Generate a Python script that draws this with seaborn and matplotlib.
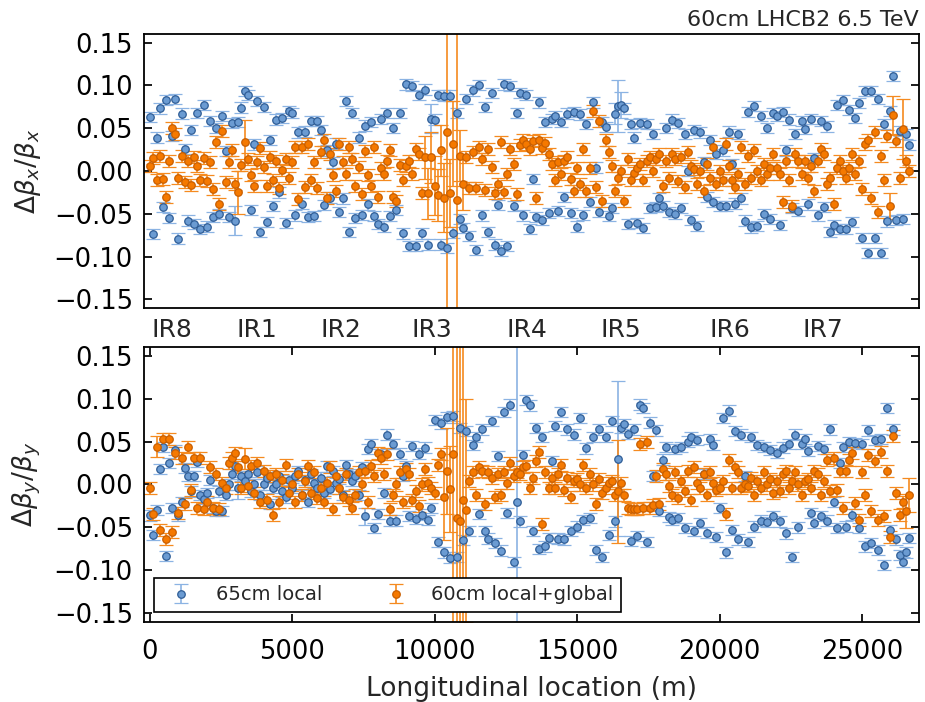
import numpy as np
import matplotlib
matplotlib.use("Agg")
import matplotlib.pyplot as plt
import seaborn as sns

# BPM longitudinal positions (m)
s_pos = [
    20, 130, 240, 350, 460, 570, 680, 790, 900,
    1010, 1120, 1230, 1340, 1450, 1560, 1670, 1780, 1890,
    2000, 2110, 2220, 2330, 2440, 2550, 2660, 2770, 2880,
    3000, 3110, 3220, 3330, 3440, 3550, 3660, 3770, 3880,
    4000, 4110, 4220, 4330, 4440, 4550, 4660, 4770, 4880,
    5000, 5110, 5220, 5330, 5440, 5550, 5660, 5770, 5880,
    6000, 6110, 6220, 6330, 6440, 6550, 6660, 6770, 6880,
    7000, 7110, 7220, 7330, 7440, 7550, 7660, 7770, 7880,
    8000, 8110, 8220, 8330, 8440, 8550, 8660, 8770, 8880,
    9000, 9110, 9220, 9330, 9440, 9550, 9660, 9770, 9880,
    10000, 10110, 10220, 10330, 10440, 10550, 10660, 10770, 10880,
    11000, 11110, 11220, 11330, 11440, 11550, 11660, 11770, 11880,
    12000, 12110, 12220, 12330, 12440, 12550, 12660, 12770, 12880,
    13000, 13110, 13220, 13330, 13440, 13550, 13660, 13770, 13880,
    14000, 14110, 14220, 14330, 14440, 14550, 14660, 14770, 14880,
    15000, 15110, 15220, 15330, 15440, 15550, 15660, 15770, 15880,
    16000, 16110, 16220, 16330, 16440, 16550, 16660, 16770, 16880,
    17000, 17110, 17220, 17330, 17440, 17550, 17660, 17770, 17880,
    18000, 18110, 18220, 18330, 18440, 18550, 18660, 18770, 18880,
    19000, 19110, 19220, 19330, 19440, 19550, 19660, 19770, 19880,
    20000, 20110, 20220, 20330, 20440, 20550, 20660, 20770, 20880,
    21000, 21110, 21220, 21330, 21440, 21550, 21660, 21770, 21880,
    22000, 22110, 22220, 22330, 22440, 22550, 22660, 22770, 22880,
    23000, 23110, 23220, 23330, 23440, 23550, 23660, 23770, 23880,
    24000, 24110, 24220, 24330, 24440, 24550, 24660, 24770, 24880,
    25000, 25110, 25220, 25330, 25440, 25550, 25660, 25770, 25880,
    25990, 26100, 26210, 26320, 26430, 26540, 26650,
]

# horizontal beta-beating
dbx_65 = [
    0.063, -0.074, 0.039, 0.073, -0.042, 0.083, -0.055, 0.041, 0.084,
    -0.079, 0.067, 0.026, -0.058, 0.048, -0.062, 0.068, -0.068, 0.077,
    -0.065, 0.058, -0.054, 0.050, -0.050, 0.064, 0.023, -0.054, 0.056,
    -0.058, 0.057, 0.074, 0.093, 0.089, -0.046, 0.031, 0.082, -0.071,
    0.075, -0.060, 0.036, -0.041, 0.060, -0.025, 0.062, -0.061, 0.070,
    0.068, -0.052, 0.045, -0.038, 0.046, -0.054, 0.058, -0.053, 0.058,
    0.048, -0.040, 0.024, -0.031, 0.010, 0.032, -0.048, -0.032, 0.082,
    -0.071, 0.068, -0.055, 0.039, -0.051, 0.053, -0.039, 0.057, -0.053,
    -0.062, 0.061, -0.065, 0.068, -0.053, 0.050, -0.046, 0.068, -0.073,
    0.101, -0.088, 0.099, -0.088, 0.089, -0.073, 0.095, -0.086, 0.061,
    0.060, 0.089, -0.086, 0.088, -0.090, 0.088, -0.072, 0.068, -0.056,
    -0.067, 0.084, -0.076, 0.094, -0.092, 0.100, -0.052, 0.075, -0.071,
    0.091, -0.086, -0.040, -0.093, 0.101, -0.088, 0.099, -0.041, 0.068,
    0.091, -0.052, 0.089, -0.068, -0.009, -0.054, 0.080, -0.057, 0.057,
    -0.049, 0.061, 0.064, -0.047, 0.057, -0.030, 0.067, -0.049, 0.069,
    -0.065, 0.066, -0.051, 0.055, -0.036, 0.080, 0.004, -0.048, 0.057,
    0.051, -0.053, -0.043, 0.067, 0.076, 0.077, 0.073, -0.062, 0.055,
    0.039, -0.061, 0.056, -0.067, 0.055, -0.043, 0.043, -0.042, -0.032,
    -0.041, 0.050, -0.048, 0.060, -0.050, 0.056, -0.043, 0.043, 0.000,
    -0.057, 0.048, -0.064, 0.045, 0.010, -0.030, 0.036, -0.036, 0.020,
    -0.041, 0.024, -0.041, 0.046, 0.008, -0.038, 0.043, -0.032, -0.058,
    0.069, -0.066, 0.076, -0.064, 0.064, -0.050, 0.050, -0.056, 0.068,
    0.064, -0.063, 0.069, 0.024, 0.060, -0.043, 0.043, -0.047, 0.058,
    0.049, -0.039, 0.061, 0.015, -0.052, 0.058, -0.042, 0.052, -0.071,
    -0.063, 0.077, -0.068, 0.083, -0.068, 0.071, -0.060, 0.062, 0.079,
    -0.078, 0.093, -0.096, 0.093, -0.078, 0.084, -0.096, 0.055, -0.059,
    0.070, 0.111, -0.057, 0.047, -0.056, 0.043, 0.030,
]

dbx_60 = [
    0.006, 0.015, -0.011, 0.018, -0.009, -0.030, 0.012, 0.050, 0.043,
    -0.008, 0.018, -0.013, 0.012, -0.016, 0.016, 0.006, -0.011, 0.015,
    -0.012, 0.010, -0.021, 0.034, -0.039, 0.047, -0.013, 0.010, 0.024,
    -0.015, -0.025, 0.007, 0.034, 0.014, -0.005, -0.017, 0.010, 0.027,
    0.005, -0.017, 0.016, -0.010, 0.012, -0.020, 0.001, 0.014, -0.008,
    0.010, 0.028, -0.033, 0.028, -0.019, 0.032, -0.010, 0.010, -0.020,
    0.022, 0.036, -0.032, 0.020, -0.005, -0.023, 0.032, 0.010, -0.004,
    0.028, 0.014, -0.017, 0.005, -0.027, 0.023, -0.005, -0.017, 0.028,
    -0.030, 0.004, -0.004, 0.012, 0.024, -0.030, -0.035, 0.007, -0.011,
    0.006, 0.012, -0.004, 0.026, 0.020, -0.026, 0.016, -0.026, 0.016,
    -0.017, -0.028, 0.024, -0.031, 0.046, -0.026, 0.032, -0.034, 0.018,
    -0.015, 0.016, -0.020, 0.022, -0.020, 0.028, 0.014, -0.022, 0.026,
    0.005, -0.026, -0.015, 0.034, -0.025, -0.004, 0.026, 0.008, -0.027,
    0.030, 0.036, 0.032, 0.026, 0.035, -0.031, 0.036, 0.027, 0.033,
    0.020, 0.008, -0.011, 0.010, -0.004, 0.012, 0.016, -0.009, -0.023,
    0.004, -0.015, 0.026, -0.023, 0.004, 0.070, -0.019, 0.058, -0.035,
    0.036, 0.022, 0.006, -0.023, -0.008, 0.000, -0.035, 0.014, -0.011,
    -0.002, 0.004, 0.008, -0.010, 0.012, 0.016, 0.000, 0.014, 0.020,
    -0.017, 0.012, -0.008, 0.020, 0.014, -0.012, 0.016, -0.019, 0.022,
    0.006, 0.002, -0.015, 0.000, -0.023, 0.008, -0.008, 0.028, -0.015,
    0.000, -0.011, 0.031, 0.006, -0.011, -0.019, -0.004, 0.028, -0.015,
    0.018, -0.008, 0.024, 0.000, -0.011, 0.008, -0.004, 0.004, 0.020,
    0.004, -0.004, -0.036, 0.012, -0.011, -0.041, 0.020, 0.012, -0.004,
    0.012, -0.008, 0.006, -0.023, 0.012, 0.026, 0.020, -0.015, -0.008,
    -0.039, 0.004, 0.012, 0.000, -0.008, 0.004, 0.020, -0.004, 0.012,
    -0.021, 0.032, 0.036, -0.031, 0.046, -0.048, 0.018, -0.011, 0.041,
    -0.041, 0.065, 0.035, -0.008, 0.049, 0.012, 0.000,
]

# vertical beta-beating
dby_65 = [
    -0.036, -0.059, -0.030, 0.018, 0.044, -0.083, 0.025, -0.027, 0.040,
    -0.036, -0.020, 0.019, 0.010, -0.008, 0.010, 0.026, -0.012, -0.017,
    -0.010, 0.005, -0.027, -0.031, -0.008, -0.031, -0.012, 0.000, 0.012,
    0.021, -0.004, 0.010, 0.004, 0.012, -0.008, 0.000, 0.015, -0.012,
    0.000, 0.008, -0.023, -0.004, 0.000, 0.010, -0.008, -0.015, 0.005,
    -0.004, 0.010, 0.016, -0.012, 0.005, -0.020, 0.012, 0.002, -0.004,
    0.008, -0.010, 0.021, -0.005, 0.016, 0.002, 0.006, -0.012, 0.023,
    0.012, 0.004, 0.010, -0.012, 0.020, -0.037, 0.041, 0.047, -0.051,
    -0.034, 0.035, -0.010, 0.058, -0.042, 0.047, -0.042, 0.036, 0.010,
    0.021, -0.037, 0.045, -0.040, 0.036, -0.035, 0.043, -0.041, -0.027,
    0.075, -0.067, 0.071, -0.079, 0.078, -0.085, 0.080, -0.084, 0.066,
    -0.065, 0.062, -0.054, 0.046, 0.055, -0.034, 0.064, -0.054, -0.063,
    0.074, -0.068, 0.033, -0.077, 0.084, -0.033, 0.093, -0.090, -0.020,
    -0.043, 0.034, 0.098, 0.092, -0.054, 0.066, -0.075, 0.055, -0.072,
    -0.062, 0.027, 0.068, -0.063, 0.084, -0.064, 0.064, -0.054, 0.058,
    -0.049, 0.077, -0.041, 0.042, -0.039, 0.055, -0.076, 0.064, -0.084,
    0.055, -0.059, 0.074, -0.043, 0.030, 0.066, 0.070, 0.059, -0.066,
    0.064, -0.060, 0.093, 0.089, -0.067, 0.072, 0.010, 0.063, -0.031,
    0.029, 0.044, -0.038, -0.041, 0.041, -0.039, 0.044, -0.051, 0.050,
    0.055, -0.054, 0.052, -0.045, 0.012, -0.056, 0.053, 0.046, -0.061,
    -0.027, 0.077, -0.079, 0.086, -0.053, 0.062, -0.064, 0.058, 0.010,
    -0.067, 0.055, -0.049, 0.046, -0.042, 0.044, -0.044, 0.040, -0.037,
    0.037, -0.043, 0.043, -0.057, 0.047, -0.084, 0.058, -0.050, 0.047,
    0.053, 0.039, -0.033, -0.045, 0.045, -0.037, 0.041, -0.042, 0.064,
    -0.020, -0.051, 0.025, 0.044, -0.049, 0.049, -0.035, 0.048, -0.051,
    0.047, -0.072, 0.063, -0.068, 0.052, -0.076, 0.053, -0.094, 0.089,
    -0.053, 0.064, -0.064, -0.082, -0.090, -0.079, -0.062,
]

dby_60 = [
    -0.004, -0.034, 0.044, -0.053, 0.053, -0.063, 0.053, -0.055, 0.037,
    -0.033, 0.031, -0.023, 0.044, -0.006, 0.031, -0.027, 0.031, -0.029,
    -0.020, 0.020, -0.027, 0.012, -0.029, 0.002, -0.004, 0.025, 0.031,
    0.037, 0.020, -0.004, 0.030, -0.002, 0.021, -0.010, 0.025, -0.020,
    0.016, -0.018, 0.010, -0.035, 0.012, -0.020, 0.005, 0.023, -0.010,
    0.000, -0.020, 0.012, -0.012, 0.004, 0.021, -0.010, 0.015, -0.016,
    -0.004, -0.020, 0.002, 0.020, -0.029, 0.010, -0.004, -0.015, 0.012,
    -0.018, -0.027, -0.012, 0.014, 0.000, 0.016, -0.020, 0.021, 0.010,
    0.037, 0.031, 0.012, 0.035, -0.029, -0.012, 0.000, 0.015, -0.020,
    0.018, 0.012, -0.018, -0.008, -0.025, 0.000, 0.018, 0.002, -0.004,
    -0.010, 0.023, 0.035, -0.015, 0.016, -0.005, 0.035, -0.039, -0.042,
    -0.018, -0.030, 0.004, 0.014, -0.012, 0.020, 0.016, -0.023, 0.014,
    0.008, -0.014, 0.012, -0.012, 0.014, 0.002, 0.025, 0.010, 0.014,
    0.012, 0.020, 0.022, -0.004, 0.008, 0.027, 0.038, -0.046, 0.014,
    -0.004, 0.008, -0.004, 0.012, 0.023, -0.006, 0.008, -0.014, 0.004,
    0.006, 0.000, 0.023, -0.004, 0.012, 0.000, -0.023, 0.006, -0.010,
    -0.004, 0.002, 0.004, -0.012, -0.008, 0.002, -0.012, -0.027, -0.029,
    -0.029, -0.029, 0.047, -0.027, 0.050, -0.027, -0.024, 0.010, -0.023,
    0.018, 0.012, -0.002, -0.012, 0.014, -0.016, 0.004, -0.008, 0.016,
    -0.018, 0.020, 0.002, -0.004, 0.012, -0.012, 0.014, 0.002, -0.006,
    -0.004, 0.004, -0.034, 0.029, -0.004, 0.020, 0.014, -0.004, 0.000,
    -0.002, 0.008, -0.012, 0.004, -0.004, 0.014, 0.000, 0.006, -0.010,
    0.004, -0.008, 0.012, 0.016, -0.004, 0.004, 0.014, 0.000, -0.012,
    0.004, 0.006, -0.004, 0.016, 0.012, -0.012, 0.004, 0.029, -0.008,
    0.031, -0.006, 0.016, -0.027, 0.016, 0.029, 0.037, -0.021, -0.041,
    0.014, -0.012, 0.034, -0.031, 0.027, -0.041, 0.038, -0.037, 0.016,
    -0.061, 0.056, -0.010, -0.035, -0.020, -0.031, -0.012,
]

# error bars: typical size plus the BPMs with larger errors
err_base_65 = 0.006
err_base_60 = 0.007
err_bx_65 = {3000: 0.017, 9880: 0.017, 16330: 0.012, 16440: 0.03, 16550: 0.015}
err_bx_60 = {3110: 0.025, 3330: 0.025, 9660: 0.025, 9770: 0.03, 9880: 0.03,
             10000: 0.035, 10110: 0.03, 10220: 0.03, 10330: 0.04, 10440: 0.4,
             10550: 0.04, 10660: 0.05, 10770: 0.4, 10880: 0.03, 11000: 0.03,
             25990: 0.015, 26100: 0.022, 26430: 0.035}
err_by_65 = {3110: 0.013, 7550: 0.01, 12880: 0.4, 16440: 0.09}
err_by_60 = {240: 0.012, 3330: 0.012, 10330: 0.05, 10440: 0.05, 10550: 0.05,
             10660: 0.4, 10770: 0.4, 10880: 0.4, 11000: 0.4, 11110: 0.13,
             16440: 0.06, 26540: 0.02, 26650: 0.02}

ir_names = ["IR8", "IR1", "IR2", "IR3", "IR4", "IR5", "IR6", "IR7"]
ir_pos = [790, 3770, 6720, 9910, 13250, 16540, 20370, 23630]

blue_face, blue_edge, blue_err = "#6b9bd2", "#2f5d96", "#8bb3e3"
orange_face, orange_edge, orange_err = "#f57900", "#c85e00", "#f58a1f"


def make_err(base, special):
    e = np.full(len(s_pos), base)
    for s, v in special.items():
        e[s_pos.index(s)] = v
    return e


sns.set_theme(style="ticks")
plt.rcParams.update({
    "font.family": ["DejaVu Sans"],
    "axes.edgecolor": "black",
    "axes.linewidth": 1.3,
    "xtick.direction": "in",
    "ytick.direction": "in",
    "xtick.top": True,
    "ytick.right": True,
    "xtick.major.size": 6,
    "ytick.major.size": 6,
    "xtick.major.pad": 12,
    "ytick.major.pad": 8,
    "xtick.color": "black",
    "ytick.color": "black",
    "xtick.labelsize": 18.5,
    "ytick.labelsize": 18.5,
    "mathtext.fontset": "dejavusans",
})

fig = plt.figure(figsize=(9.25, 7.02), dpi=100)
ax_x = fig.add_axes([0.1557, 0.5613, 0.8378, 0.3903])
ax_y = fig.add_axes([0.1557, 0.1140, 0.8378, 0.3917])

panels = [
    (ax_x, dbx_65, dbx_60, err_bx_65, err_bx_60, r"$\Delta\beta_x/\beta_x$"),
    (ax_y, dby_65, dby_60, err_by_65, err_by_60, r"$\Delta\beta_y/\beta_y$"),
]

handles = []
for ax, v65, v60, sp65, sp60, ylab in panels:
    h1 = ax.errorbar(s_pos, v65, yerr=make_err(err_base_65, sp65), fmt="o",
                     ms=5.4, mfc=blue_face, mec=blue_edge, mew=0.9,
                     ecolor=blue_err, elinewidth=1.2, capsize=5, capthick=1.2,
                     label="65cm local")
    h2 = ax.errorbar(s_pos, v60, yerr=make_err(err_base_60, sp60), fmt="o",
                     ms=5.4, mfc=orange_face, mec=orange_edge, mew=0.9,
                     ecolor=orange_err, elinewidth=1.2, capsize=5, capthick=1.2,
                     label="60cm local+global")
    handles = [h1, h2]
    ax.set_xlim(-200, 27000)
    ax.set_ylim(-0.16, 0.16)
    ax.set_yticks([-0.15, -0.10, -0.05, 0.0, 0.05, 0.10, 0.15])
    ax.set_xticks([0, 5000, 10000, 15000, 20000, 25000])
    ax.set_ylabel(ylab, fontsize=19, labelpad=8)

ax_x.tick_params(axis="x", which="both", length=0, labelbottom=False, labeltop=False)
ax_y.set_xlabel("Longitudinal location (m)", fontsize=19, labelpad=8)
ax_x.set_title("60cm LHCB2 6.5 TeV", loc="right", fontsize=16, pad=6)

for name, pos in zip(ir_names, ir_pos):
    ax_y.text(pos, 1.062, name, transform=ax_y.get_xaxis_transform(),
              ha="center", va="center", fontsize=18)

leg = ax_y.legend(handles, ["65cm local", "60cm local+global"], loc="lower left",
                  ncol=2, numpoints=1, fontsize=14, frameon=True, fancybox=False,
                  edgecolor="black", framealpha=1, columnspacing=2.8,
                  borderaxespad=0.5)
leg.get_frame().set_linewidth(1.2)

fig.savefig("out.png", dpi=100)
